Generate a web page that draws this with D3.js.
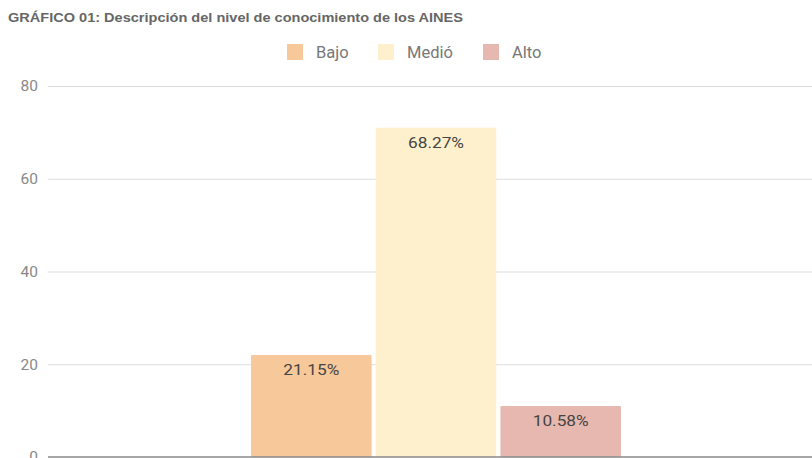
<!DOCTYPE html>
<html><head><meta charset="utf-8">
<script src="https://cdn.jsdelivr.net/npm/d3@7"></script>
<style>body{margin:0;background:#fff;overflow:hidden}svg{display:block;font-family:Roboto,Arial,sans-serif}</style>
</head><body><svg id="c" width="812" height="458"></svg>
<script>
const title = "GRÁFICO 01: Descripción del nivel de conocimiento de los AINES";
const series = ["Bajo", "Medió", "Alto"];
const counts = [22, 71, 11];
const labels = ["21.15%", "68.27%", "10.58%"];
const colors = ["#F6C89A", "#FEF0CC", "#E6B8AF"];
const yTicks = [0, 20, 40, 60, 80];

const svg = d3.select("#c");
const y = d3.scaleLinear().domain([0, 80]).range([457, 86]);
const x = d3.scaleBand().domain(series).range([251, 621]).paddingInner(0.033);
const color = d3.scaleOrdinal().domain(series).range(colors);

svg.append("text").attr("x", 8).attr("y", 22).text(title)
  .attr("font-family", "'Liberation Sans',Arial,sans-serif")
  .attr("font-size", 12).attr("font-weight", "bold").attr("fill", "#666")
  .attr("textLength", 455).attr("lengthAdjust", "spacingAndGlyphs");

const yAxis = svg.append("g").attr("transform", "translate(48,0)")
  .call(d3.axisLeft(y).tickValues(yTicks).tickSize(-800).tickPadding(10));
yAxis.select(".domain").remove();
yAxis.selectAll(".tick line").attr("stroke", d => d === 0 ? "none" : "#ddd");
yAxis.selectAll(".tick text").attr("font-size", 15.5).attr("fill", "#888").attr("font-family", "Roboto,Arial,sans-serif");

const data = series.map((s, i) => ({s, v: counts[i], l: labels[i]}));
svg.append("g").selectAll("rect").data(data).join("rect")
  .attr("x", d => x(d.s)).attr("width", x.bandwidth())
  .attr("y", d => y(d.v)).attr("height", d => y(0) - y(d.v))
  .attr("fill", d => color(d.s)).attr("rx", 1);
svg.append("g").selectAll("text").data(data).join("text")
  .attr("x", d => x(d.s) + x.bandwidth() / 2).attr("y", d => y(d.v) + 20)
  .attr("text-anchor", "middle").attr("font-size", 15.5).attr("fill", "#444")
  .attr("textLength", 56).attr("lengthAdjust", "spacingAndGlyphs")
  .text(d => d.l);

svg.append("line").attr("x1", 48).attr("x2", 812).attr("y1", y(0)).attr("y2", y(0))
  .attr("stroke", "#888").attr("stroke-width", 1.5);

const legX = [287, 378, 483];
const leg = svg.append("g").selectAll("g").data(series).join("g")
  .attr("transform", (d, i) => `translate(${legX[i]},44)`);
leg.append("rect").attr("width", 16).attr("height", 16).attr("fill", d => color(d));
leg.append("text").attr("x", 29).attr("y", 14).attr("font-size", 16.5).attr("fill", "#777").text(d => d);
</script></body></html>
